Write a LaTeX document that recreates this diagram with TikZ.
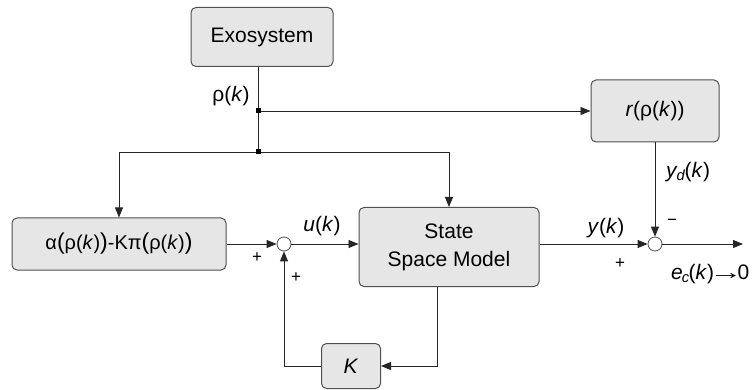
\documentclass[tikz,border=0pt]{standalone}
\usepackage{fontspec}
\setmainfont{Liberation Sans}
\usetikzlibrary{arrows.meta}
\definecolor{blkfill}{HTML}{E6E6E6}
\definecolor{blkedge}{HTML}{505050}
\tikzset{
  blk/.style={draw=blkedge, fill=blkfill, rounded corners=5pt, line width=1pt,
    inner sep=0pt, align=center, font=\fontsize{21}{28}\selectfont},
  sumpt/.style={circle, draw=blkedge, fill=white, line width=0.8pt,
    minimum size=14pt, inner sep=0pt},
  jdot/.style={rectangle, fill=black, minimum size=5pt, inner sep=0pt},
  sig/.style={font=\fontsize{21}{25}\selectfont, inner sep=0pt},
  sgn/.style={font=\fontsize{17}{20}\selectfont, inner sep=0pt},
  wire/.style={line width=0.9pt, draw=black!85},
  arr/.style={wire, -{Triangle[length=10pt,width=8pt]}}
}
\begin{document}
\begin{tikzpicture}[x=1pt,y=-1pt]
\useasboundingbox (0,0) rectangle (755,390);

% blocks
\node[blk, minimum width=142pt, minimum height=59pt] (exo) at (262,37) {Exosystem};
\node[blk, minimum width=128pt, minimum height=62pt] (r) at (655,111) {\textit{r}(ρ(\textit{k}))};
\node[blk, minimum width=214pt, minimum height=52pt, font=\fontsize{20}{24}\selectfont] (alpha) at (119,244)
  {α\scalebox{1.15}{(}ρ(\textit{k})\scalebox{1.15}{)}-Kπ\scalebox{1.15}{(}ρ(\textit{k})\scalebox{1.15}{)}};
\node[blk, minimum width=180pt, minimum height=79pt] (ssm) at (449,247) {State\\Space Model};
\node[blk, minimum width=59pt, minimum height=45pt] (K) at (351,366) {\textit{K}};

% summing junctions
\node[sumpt] (s1) at (284,244) {};
\node[sumpt] (s2) at (655,244) {};

% branch points and free ends
\coordinate (j1) at (258,111);
\coordinate (j2) at (258,152);
\coordinate (eout) at (743,244);
\coordinate (ssmout) at (437,287);

% signal lines
\draw[wire] (exo.south -| j1) -- (j2);
\draw[arr] (j1) -- (r.west);
\draw[arr] (j2) -| (alpha.north);
\draw[arr] (j2) -| (ssm.north);
\draw[arr] (alpha.east) -- (s1.west);
\draw[arr] (s1.east) -- (ssm.west |- s1);
\draw[arr] (ssm.east |- s2) -- (s2.west);
\draw[arr] (r.south) -- (s2.north);
\draw[arr] (s2.east) -- (eout);
\draw[arr] (ssmout) |- (K.east);
\draw[arr] (K.west) -| (s1.south);

\node[jdot] at (j1) {};
\node[jdot] at (j2) {};

% signal labels
\node[sig] (lrho) at (231,96) {ρ(\textit{k})};
\node[sig] (lu) at (322,226) {\textit{u}(\textit{k})};
\node[sig] (ly) at (606,228) {\textit{y}(\textit{k})};
\node[sig] (lyd) at (688,172) {\textit{y}\kern-1pt\textsubscript{\textit{d}}\kern-1pt(\textit{k})};
\node[sig, anchor=west] (le) at (671,274) {\textit{e}\kern-1pt\textsubscript{\textit{c}}\kern-1pt(\textit{k})\kern-5pt\scalebox{1.6}[1]{→}\kern-5pt0};

% signs
\node[sgn] (m2) at (672,222) {−};
\node[sgn] (p2) at (620,264) {+};
\node[sgn] (p1a) at (257,258) {+};
\node[sgn] (p1b) at (296,278) {+};
\end{tikzpicture}
\end{document}
